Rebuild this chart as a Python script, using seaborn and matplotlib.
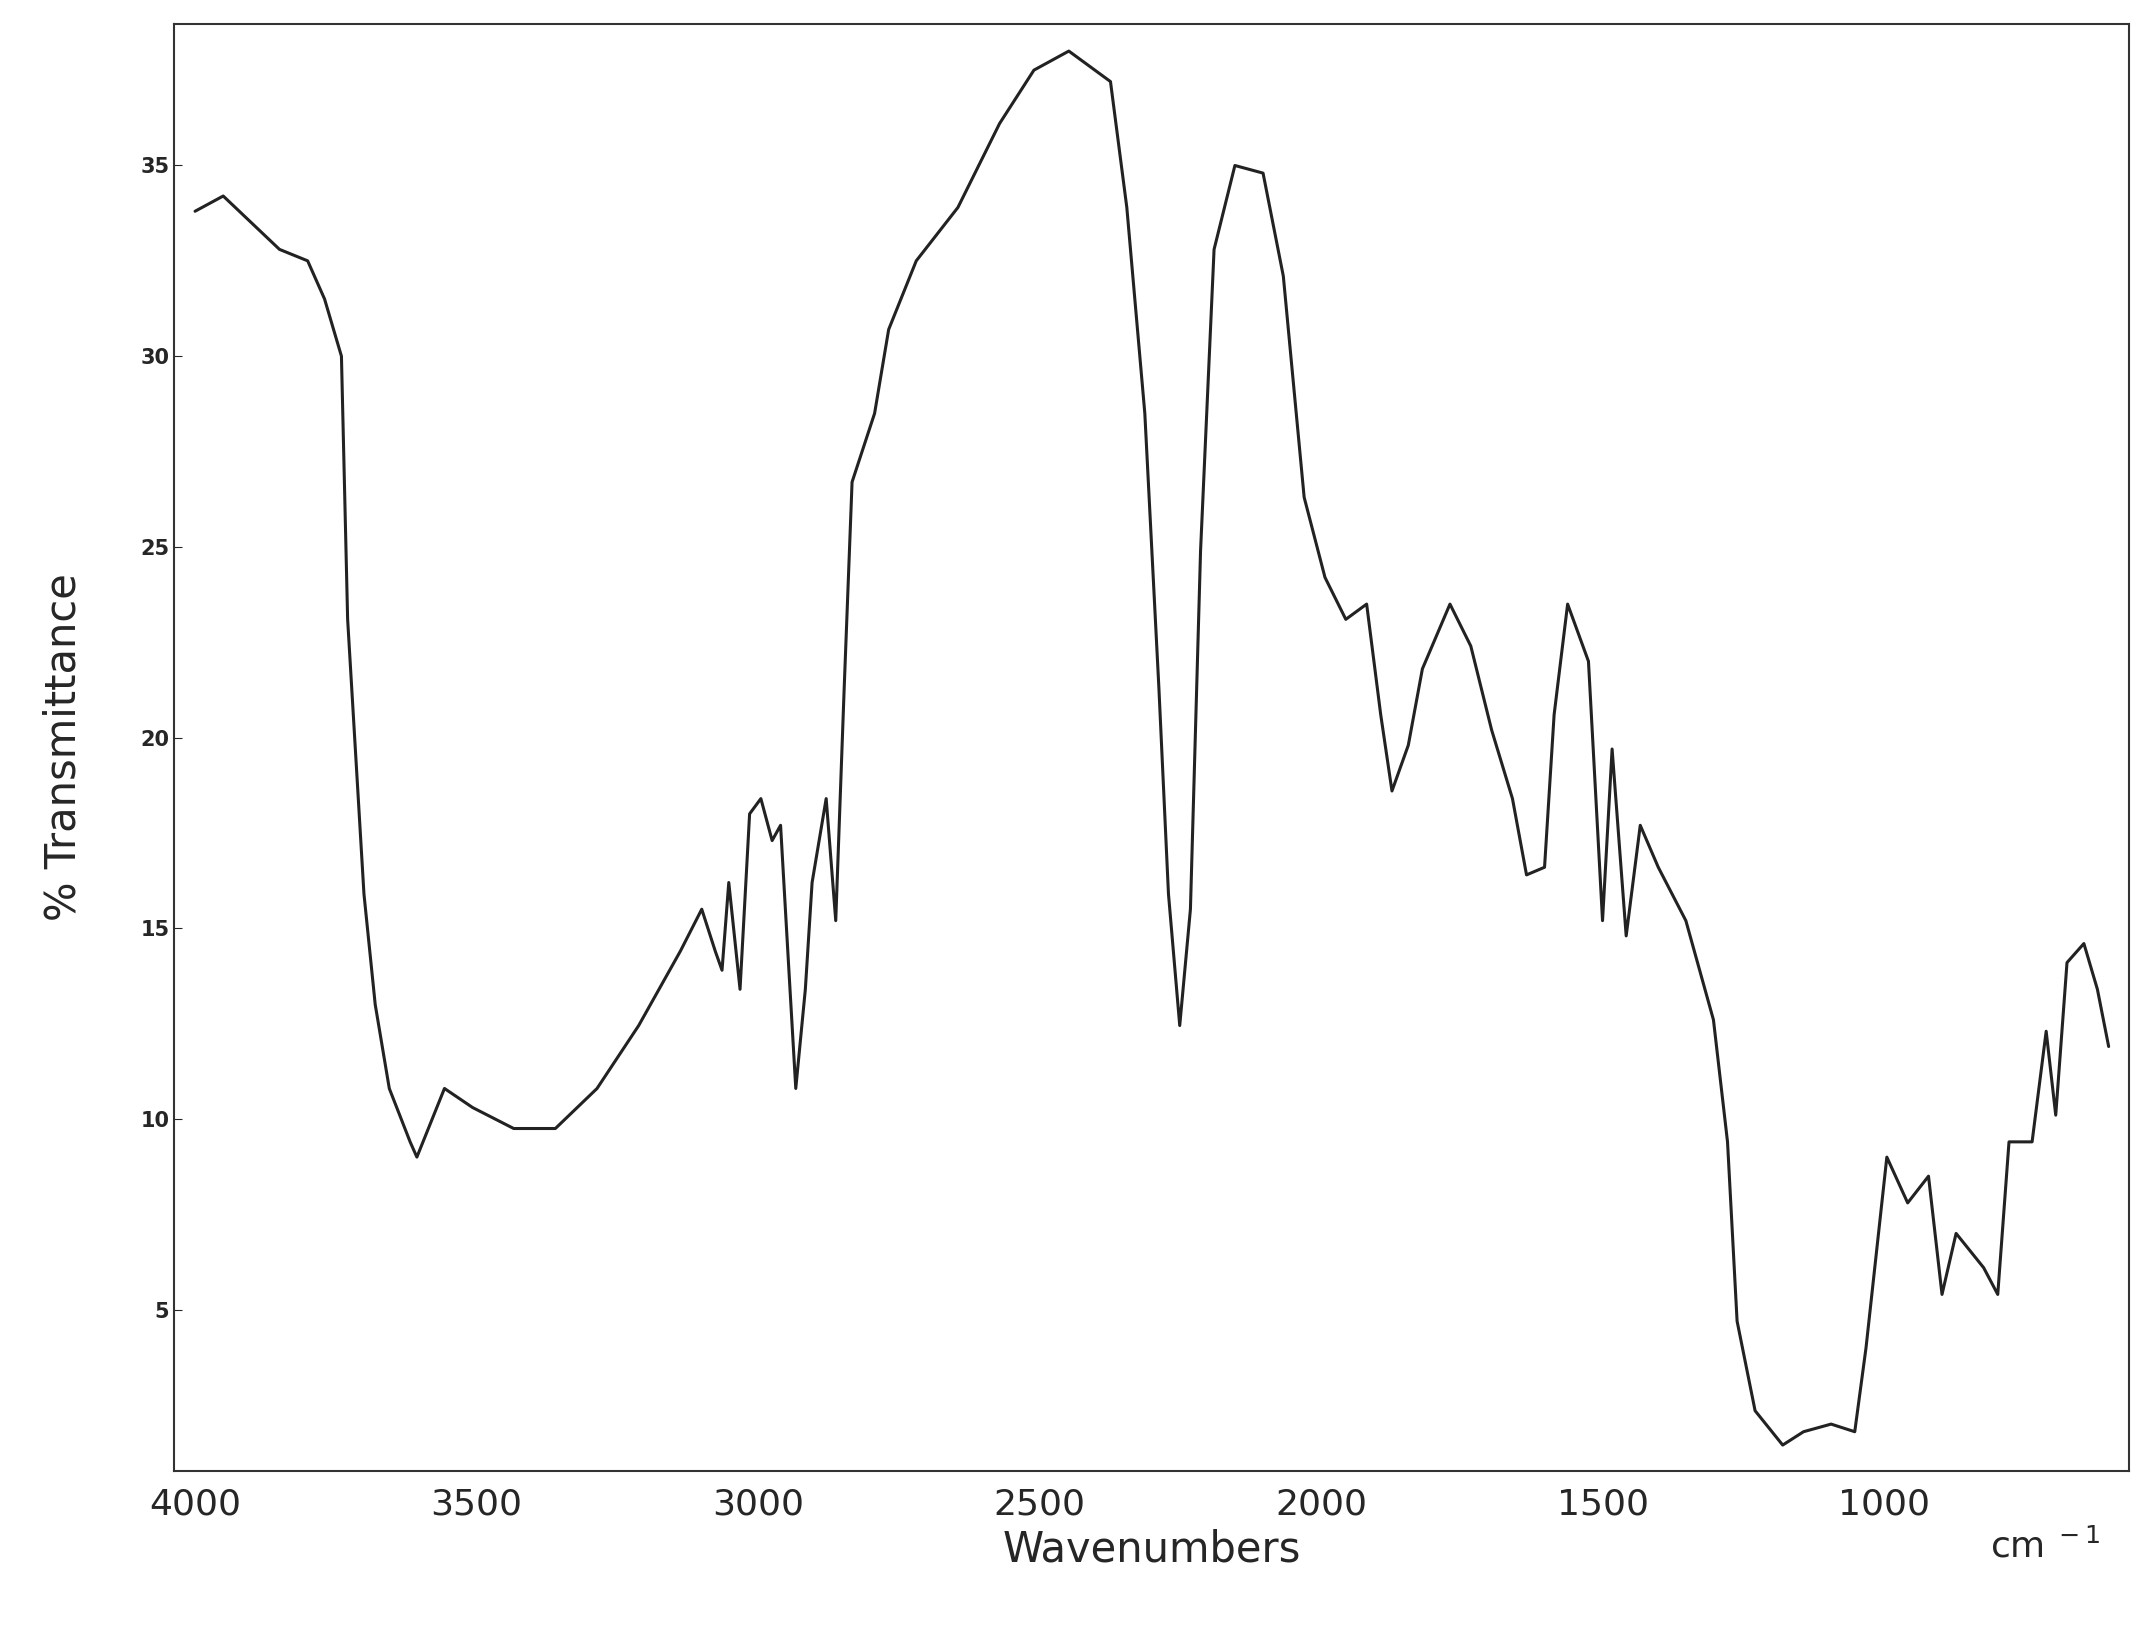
import matplotlib
matplotlib.use("Agg")
import matplotlib.pyplot as plt
import seaborn as sns
import pandas as pd

wavenumber = [4000,3950,3900,3850,3800,3770,3740,3729,3700,3680,3655,3618,3606,3557,3507,3434,3360,3286,3212,3138,3100,3076,3064,3052,3032,3015,2995,2975,2960,2946,2933,2916,2904,2879,2862,2847,2833,2793,2768,2719,2645,2571,2510,2448,2374,2345,2313,2288,2271,2251,2232,2214,2190,2153,2103,2067,2030,1993,1956,1919,1894,1874,1845,1820,1771,1734,1697,1660,1635,1603,1586,1562,1525,1500,1483,1458,1433,1401,1352,1303,1278,1261,1229,1180,1143,1094,1052,1032,995,958,921,897,872,823,798,778,737,712,695,675,645,621,601]
transmittance = [33.8,34.2,33.5,32.8,32.5,31.5,30.0,23.1,15.9,13.0,10.8,9.4,9.0,10.8,10.3,9.75,9.75,10.8,12.45,14.4,15.5,14.4,13.9,16.2,13.4,18.0,18.4,17.3,17.7,14.1,10.8,13.4,16.2,18.4,15.2,21.3,26.7,28.5,30.7,32.5,33.9,36.1,37.5,38.0,37.2,33.9,28.5,21.3,15.9,12.45,15.5,24.9,32.8,35.0,34.8,32.1,26.3,24.2,23.1,23.5,20.6,18.6,19.8,21.8,23.5,22.4,20.2,18.4,16.4,16.6,20.6,23.5,22.0,15.2,19.7,14.8,17.7,16.6,15.2,12.6,9.4,4.7,2.35,1.45,1.8,2.0,1.8,4.0,9.0,7.8,8.5,5.4,7.0,6.1,5.4,9.4,9.4,12.3,10.1,14.1,14.6,13.4,11.9]
y_ticks = [5, 10, 15, 20, 25, 30, 35]
x_ticks = [4000, 3500, 3000, 2500, 2000, 1500, 1000]

df = pd.DataFrame({"wn": wavenumber, "T": transmittance})
sns.set_style("white")
fig = plt.figure(figsize=(21.51, 16.25), dpi=100)
ax = fig.add_axes([0.081, 0.095, 0.909, 0.89])
sns.lineplot(data=df, x="wn", y="T", ax=ax, color="#222222", linewidth=2.2, sort=False)
ax.set_xlim(4037, 564)
ax.set_ylim(0.78, 38.7)
ax.set_xticks(x_ticks)
ax.set_yticks(y_ticks)
ax.tick_params(axis="x", labelsize=26, length=0, pad=12)
ax.tick_params(axis="y", labelsize=15, length=6, direction="in", left=True)
for l in ax.get_yticklabels():
    l.set_fontweight("bold")
for s in ax.spines.values():
    s.set_color("#333333"); s.set_linewidth(1.5)
ax.set_xlabel("Wavenumbers", fontsize=30, labelpad=5)
ax.set_ylabel("% Transmittance", fontsize=30, labelpad=40)
ax.text(0.985, -0.04, "cm$^{\\ -1}$", transform=ax.transAxes, fontsize=26, ha="right", va="top")
fig.savefig("out.png", dpi=100)
